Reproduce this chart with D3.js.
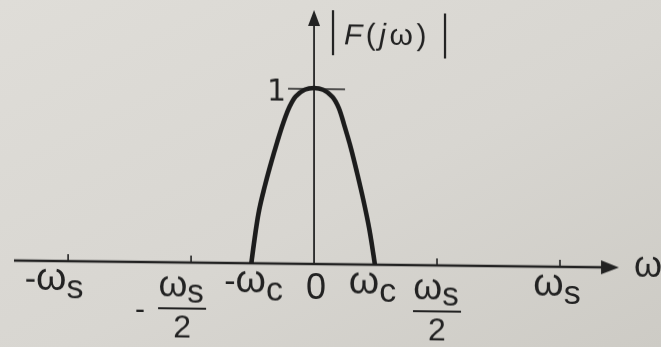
<!DOCTYPE html>
<html>
<head>
<meta charset="utf-8">
<script src="https://cdn.jsdelivr.net/npm/d3@7"></script>
<style>
  html, body { margin: 0; padding: 0; background: #d9d7d2; }
  svg { display: block; }
</style>
</head>
<body>
<script>
// Magnitude spectrum |F(jω)| of a band-limited signal, ω in units of ωs.
const omegaC = 0.25;                 // cut-off ωc expressed in ωs
// Spectrum samples: ω / ωc and |F(jω)|
const curveW   = [-1.02, -0.9, -0.8, -0.7, -0.6, -0.5, -0.4, -0.3, -0.15, 0, 0.15, 0.3, 0.4, 0.5, 0.6, 0.7, 0.8, 0.9, 0.99];
const curveMag = [0, 0.29, 0.44, 0.57, 0.69, 0.80, 0.89, 0.95, 0.99, 1, 0.99, 0.95, 0.89, 0.78, 0.66, 0.52, 0.37, 0.20, 0];

// Frequency axis ticks (ω in ωs units) and their labels
const tickValues = [-1, -0.5, -0.25, 0, 0.25, 0.5, 1];
const tickSign   = ['-', '-', '-', '', '', '', ''];
const tickSymbol = ['ω', 'ω', 'ω', '0', 'ω', 'ω', 'ω'];
const tickSub    = ['s', 's', 'c', '', 'c', 's', 's'];
const tickDenom  = ['', '2', '', '', '', '2', ''];
const tickMarked = [true, true, false, false, false, true, true];

// Magnitude axis
const magTicks = [1];
const magTickLabels = ['1'];

const W = 661, H = 347;
const ink = '#242424';
const bodyFont = '"Liberation Sans", Arial, sans-serif';

const svg = d3.select('body').append('svg')
  .attr('width', W).attr('height', H);

const defs = svg.append('defs');
const grad = defs.append('linearGradient').attr('id', 'paper')
  .attr('x1', 0).attr('y1', 0).attr('x2', 1).attr('y2', 1);
grad.append('stop').attr('offset', '0%').attr('stop-color', '#dfddd8');
grad.append('stop').attr('offset', '55%').attr('stop-color', '#d8d6d1');
grad.append('stop').attr('offset', '100%').attr('stop-color', '#cdcbc5');
defs.append('filter').attr('id', 'soft')
  .append('feGaussianBlur').attr('stdDeviation', 0.55);

svg.append('rect').attr('width', W).attr('height', H).attr('fill', 'url(#paper)');

const x = d3.scaleLinear().domain([-1.22, 1.24]).range([14, 619]);
const y = d3.scaleLinear().domain([0, 1.443]).range([264, 10]);

const x0 = x(0), y0 = y(0);
const g = svg.append('g')
  .attr('filter', 'url(#soft)')
  .attr('transform', `translate(${x0},${y0}) skewY(0.66) translate(${-x0},${-y0})`);

// ω axis with arrow
const [xa, xb] = x.domain();
g.append('line')
  .attr('x1', x(xa)).attr('x2', x(xb) - 10)
  .attr('y1', y0).attr('y2', y0)
  .attr('stroke', ink).attr('stroke-width', 2.6);
g.append('path')
  .attr('d', `M${x(xb)},${y0} L${x(xb) - 18},${y0 - 7} L${x(xb) - 18},${y0 + 7} Z`)
  .attr('fill', ink);
g.append('text')
  .attr('x', 634).attr('y', 273)
  .attr('font-family', bodyFont).attr('font-size', 36)
  .attr('fill', ink).text('ω');

// |F| axis with arrow
const yTop = y(y.domain()[1]);
g.append('line')
  .attr('x1', x0).attr('x2', x0)
  .attr('y1', y0).attr('y2', yTop + 12)
  .attr('stroke', ink).attr('stroke-width', 1.8);
g.append('path')
  .attr('d', `M${x0},${yTop} L${x0 - 6},${yTop + 16} L${x0 + 6},${yTop + 16} Z`)
  .attr('fill', ink);

// Axis title |F(jω)|
const title = g.append('g');
[[333, 10, 55], [445, 12, 57]].forEach(([bx, t, b]) => title.append('line')
  .attr('x1', bx).attr('x2', bx).attr('y1', t).attr('y2', b)
  .attr('stroke', ink).attr('stroke-width', 2.2));
const tt = title.append('text')
  .attr('x', 344).attr('y', 44)
  .attr('font-family', bodyFont).attr('font-size', 30)
  .attr('letter-spacing', 3.5).attr('fill', ink);
tt.append('tspan').attr('font-style', 'italic').text('F');
tt.append('tspan').text('(');
tt.append('tspan').attr('font-style', 'italic').text('j');
tt.append('tspan').text('ω)');

// Magnitude tick at 1
magTicks.forEach((m, i) => {
  g.append('line')
    .attr('x1', x0 - 26).attr('x2', x0 + 31)
    .attr('y1', y(m) + 1).attr('y2', y(m) + 1)
    .attr('stroke', ink).attr('stroke-width', 1.6);
  g.append('text')
    .attr('x', x0 - 28).attr('y', y(m) + 13)
    .attr('text-anchor', 'end')
    .attr('font-family', '"DejaVu Sans", sans-serif').attr('font-size', 30)
    .attr('fill', ink).text(magTickLabels[i]);
});

// Spectrum curve
const line = d3.line()
  .x((d, i) => x(curveW[i] * omegaC))
  .y(d => y(d))
  .curve(d3.curveCatmullRom.alpha(0.5));
g.append('path')
  .datum(curveMag)
  .attr('d', line)
  .attr('fill', 'none')
  .attr('stroke', '#1c1c1c')
  .attr('stroke-width', 4.6)
  .attr('stroke-linejoin', 'round');

// Small tick marks on ω axis
tickValues.forEach((v, i) => {
  if (!tickMarked[i]) return;
  g.append('line')
    .attr('x1', x(v)).attr('x2', x(v))
    .attr('y1', y0).attr('y2', y0 - 7)
    .attr('stroke', ink).attr('stroke-width', 1.6);
});

// Tick labels; nudges follow the hand-set lettering
const labelNudge = [-14, -9, 1, 2, -3, 0, -3];
tickValues.forEach((v, i) => {
  const cx = x(v) + labelNudge[i];
  if (tickDenom[i]) {
    // fraction: ωs over 2, with optional leading minus
    g.append('text')
      .attr('x', cx - 1).attr('y', 298)
      .attr('text-anchor', 'middle')
      .attr('font-family', bodyFont).attr('font-size', 37).attr('fill', ink)
      .call(t => {
        t.append('tspan').text(tickSymbol[i]);
        t.append('tspan').attr('font-size', 33).attr('dy', 6).text(tickSub[i]);
      });
    g.append('line')
      .attr('x1', cx - 24).attr('x2', cx + 24)
      .attr('y1', 310).attr('y2', 310)
      .attr('stroke', ink).attr('stroke-width', 2.2);
    g.append('text')
      .attr('x', cx).attr('y', 339)
      .attr('text-anchor', 'middle')
      .attr('font-family', bodyFont).attr('font-size', 32).attr('fill', ink)
      .text(tickDenom[i]);
    if (tickSign[i]) {
      g.append('text')
        .attr('x', cx - 37).attr('y', 321)
        .attr('text-anchor', 'end')
        .attr('font-family', bodyFont).attr('font-size', 30).attr('fill', ink)
        .text(tickSign[i]);
    }
  } else {
    const isZero = tickSymbol[i] === '0';
    const t = g.append('text')
      .attr('x', cx).attr('y', isZero ? 299 : 293)
      .attr('text-anchor', 'middle')
      .attr('font-family', bodyFont)
      .attr('font-size', isZero ? 36 : 39)
      .attr('fill', ink);
    if (tickSign[i]) t.append('tspan').attr('font-size', 34).text(tickSign[i]);
    t.append('tspan').text(tickSymbol[i]);
    if (tickSub[i]) t.append('tspan').attr('font-size', 34).attr('dy', 8).text(tickSub[i]);
  }
});
</script>
</body>
</html>
